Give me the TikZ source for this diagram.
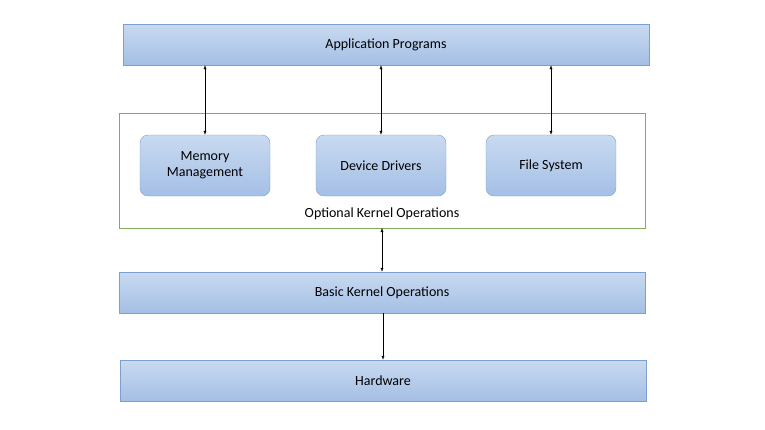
\documentclass[tikz,border=0pt]{standalone}
\usepackage{fontspec}
\setmainfont{Carlito}
\usetikzlibrary{arrows.meta}
\definecolor{boxline}{HTML}{7BA0CF}
\definecolor{boxtop}{HTML}{C9DAF0}
\definecolor{boxbot}{HTML}{A4BFE5}
\definecolor{frameline}{HTML}{82AA5A}
\begin{document}
\begin{tikzpicture}[x=1pt, y=-1pt, font=\fontsize{14}{16}\selectfont,
    layer/.style={draw=boxline, top color=boxtop, bottom color=boxbot, minimum height=41pt, inner sep=0pt},
    module/.style={layer, rounded corners=8pt, minimum width=130pt, minimum height=61pt, align=center},
    link/.style={{Latex[length=4pt,width=3pt]}-{Latex[length=4pt,width=3pt]}, thin}]
    \useasboundingbox (0,0) rectangle (765,429);
        \node[layer, minimum width=526pt] (apps) at (386, 44.5) {Application Programs};
        \draw[frameline] (119,113) rectangle (645,228);
        \coordinate (opttop) at (382,228);
        \node[module] (mem) at (205, 165.5) {Memory\\Management};
        \node[module] (dev) at (381, 165.5) {Device Drivers};
        \node[module] (fs) at (551, 165.5) {File System};
        \node (optlabel) at (382, 214) {Optional Kernel Operations};
        \node[layer, minimum width=526pt] (basic) at (382, 292.5) {Basic Kernel Operations};
        \node[layer, minimum width=526pt] (hw) at (383, 380.5) {Hardware};

        \draw[link] (apps.south -| mem) -- (mem);
        \draw[link] (apps.south -| dev) -- (dev);
        \draw[link] (apps.south -| fs) -- (fs);
        \draw[link] (opttop) -- (basic.north -| opttop);
        \draw[-{Latex[length=4pt,width=3pt]}, thin] (basic.south -| hw) -- (hw);
    \end{tikzpicture}
\end{document}
